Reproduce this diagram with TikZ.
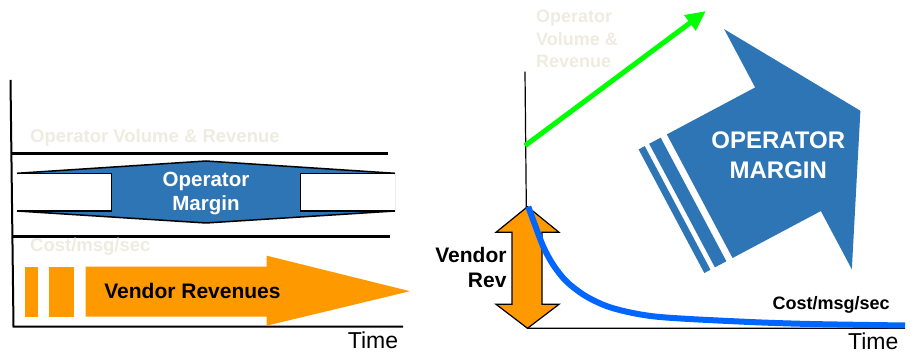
\documentclass[tikz,border=0pt]{standalone}
\usepackage{fontspec}
\setmainfont{Liberation Sans}
\usetikzlibrary{arrows.meta}

\definecolor{opblue}{RGB}{46,117,182}
\definecolor{vendororange}{RGB}{255,153,0}
\definecolor{costblue}{RGB}{0,102,255}
\definecolor{volgreen}{RGB}{0,255,0}
\definecolor{faded}{RGB}{238,236,225}

\tikzset{
  boldlabel/.style={inner sep=0pt, font=\bfseries\fontsize{18}{22.5}\selectfont},
  bigbold/.style={inner sep=0pt, font=\bfseries\fontsize{21}{25}\selectfont},
  timelabel/.style={inner sep=0pt, anchor=base, font=\fontsize{23}{23}\selectfont},
  outline/.style={line width=1.5pt}
}

\begin{document}
\begin{tikzpicture}[x=1pt,y=1pt]
  \useasboundingbox (0,0) rectangle (911,355);

  % left panel: axes
  \draw[line width=2pt] (10.5,275) -- (13.5,28.3) -- (403,28.3);
  \node[timelabel] (timeL) at (373,6.7) {Time};

  % volume and cost lines
  \draw[line width=3pt] (11,201.5) -- (388,201.5);
  \draw[line width=3pt] (12.5,118.3) -- (390,118.3);
  \node[boldlabel, faded, anchor=west, font=\bfseries\fontsize{18.5}{22.5}\selectfont] (volL) at (30,217) {Operator Volume \& Revenue};
  \node[boldlabel, faded, anchor=west, font=\bfseries\fontsize{18.5}{22.5}\selectfont] (costL) at (30,108.3) {Cost/msg/sec};

  % operator margin band
  \fill[opblue] (17,181.7) -- (206,194) -- (395,181.7) -- (395,144) -- (206,132) -- (17,144) -- cycle;
  \fill[white] (17,144) rectangle (111.5,181.7);
  \fill[white] (300.5,144) rectangle (395,181.7);
  \draw[outline] (17,181.7) -- (206,194) -- (395,181.7);
  \draw[outline] (17,144) -- (206,132) -- (395,144);
  \draw[outline] (17,181.7) -- (111.5,181.7) -- (111.5,144) -- (17,144);
  \draw[outline] (395,181.7) -- (300.5,181.7) -- (300.5,144) -- (395,144);
  \node[white, align=center, inner sep=0pt, font=\bfseries\fontsize{20.5}{24}\selectfont] (marginL) at (206,161.5) {Operator\\Margin};

  % vendor revenue arrow
  \fill[vendororange] (25.3,38.3) rectangle (37.7,88.3);
  \fill[vendororange] (49.3,38.3) rectangle (74,88.3);
  \fill[vendororange] (85.7,38.3) -- (85.7,88.3) -- (266.7,88.3) -- (266.7,99.3) -- (410,63.8) -- (266.7,29.3) -- (266.7,38.3) -- cycle;
  \node[bigbold] (vendorL) at (192.5,64) {Vendor Revenues};

  % right panel: axes
  \draw[line width=1.2pt] (525,283.3) -- (527.5,26.7) -- (905,26.7);
  \node[timelabel] (timeR) at (873.3,5.5) {Time};

  % operator volume
  \draw[volgreen, line width=5pt, -{Triangle[length=20pt,width=18pt]}] (525,209.3) -- (706,344);
  \node[boldlabel, faded, align=left, anchor=north west] (volR) at (536,345) {Operator\\Volume \&\\Revenue};

  % vendor revenue double arrow
  \filldraw[fill=vendororange, line width=1.2pt] (527.5,148.3) -- (559,122.7) -- (542,122.7) -- (542,50.7) -- (559,50.7) -- (527.5,26.7)
    -- (496,50.7) -- (512,50.7) -- (512,122.7) -- (496,122.7) -- cycle;
  \node[bigbold, align=right, anchor=east] (vendorR) at (506.7,87.5) {Vendor\\Rev};

  % cost curve
  \draw[costblue, line width=6pt] plot[smooth] coordinates {(528.3,148.3) (535,130) (543.3,108.3) (553.3,90) (566.7,73.3) (586.7,58.3)
    (613.3,46.7) (656.7,38.3) (743,33.3) (810,31) (905,29.5)};
  \node[boldlabel] (costR) at (831.2,50) {Cost/msg/sec};

  % operator margin arrow
  \begin{scope}[shift={(699.7,158.8)}, rotate=28]
    \fill[opblue] (0,-70) -- (0,70) -- (100,70) -- (100,136) -- (182,0) -- (100,-136) -- (100,-70) -- cycle;
    \fill[opblue] (-20,-70) rectangle (-7,70);
    \fill[opblue] (-32,-70) rectangle (-25,70);
  \end{scope}
  \node[white, align=center, inner sep=0pt, font=\bfseries\fontsize{24}{30}\selectfont] (marginR) at (778.3,200) {OPERATOR\\MARGIN};
\end{tikzpicture}
\end{document}
